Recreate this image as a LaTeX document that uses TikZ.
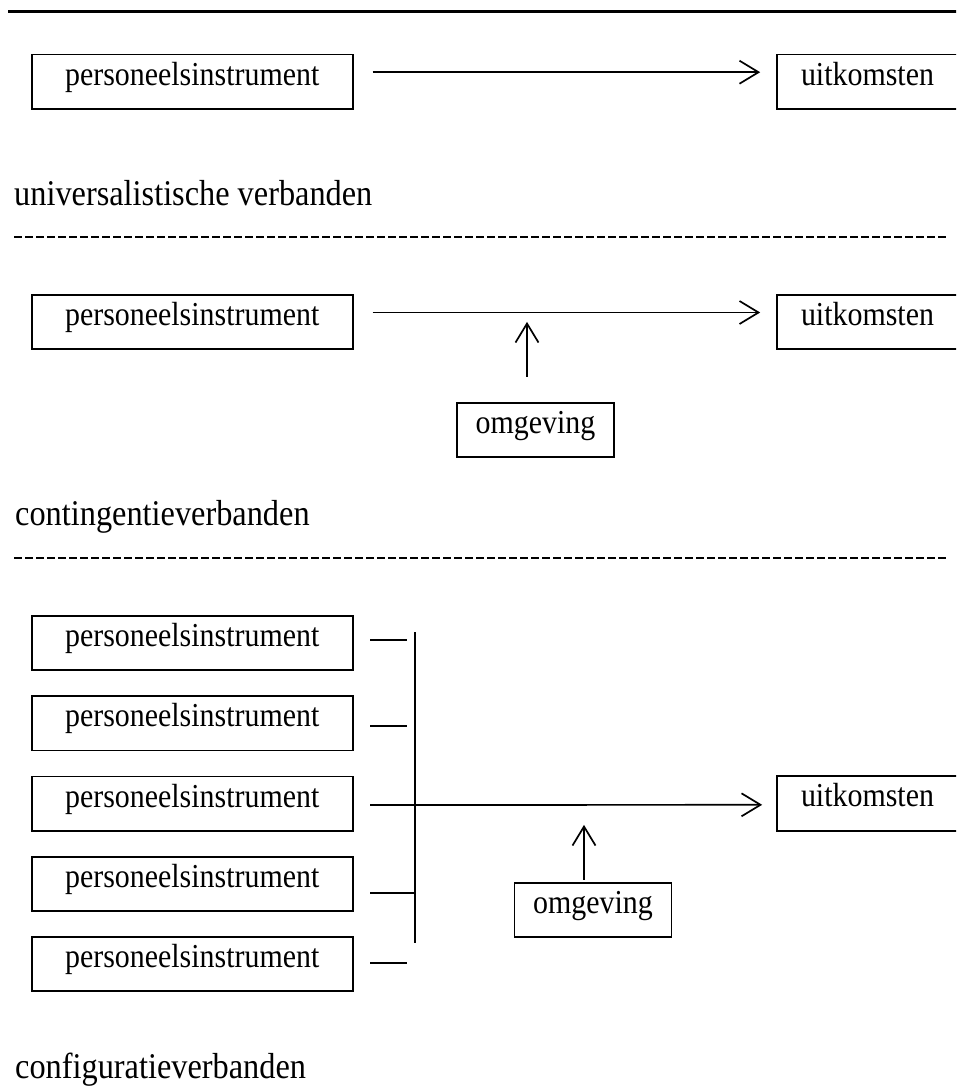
\documentclass[tikz,border=0pt]{standalone}
\usepackage{fontspec}
\setmainfont[FakeStretch=0.893]{Liberation Serif}
\usetikzlibrary{arrows.meta}
\tikzset{
  lbl/.style={draw, line width=1.7pt, inner sep=0pt, text height=22pt, text depth=15.4pt,
    minimum height=54.5pt, font=\fontsize{33.5}{40}\selectfont},
  pbox/.style={lbl, minimum width=321pt},
  ubox/.style={lbl, minimum width=181pt},
  obox/.style={lbl, minimum width=157pt},
  heading/.style={anchor=base west, inner sep=0pt, font=\fontsize{36.2}{43}\selectfont},
  conn/.style={line width=1.7pt},
  arr/.style={line width=1.7pt, -{Straight Barb[length=19pt,width=23pt]}},
  sep/.style={line width=2.2pt, dash pattern=on 7.5pt off 3.5pt},
}
\begin{document}
\begin{tikzpicture}[x=1pt,y=-1pt]
\clip (0,0) rectangle (956,1092);
\useasboundingbox (0,0) rectangle (956,1092);

% top rule
\draw[line width=3pt] (8,11) -- (960,11);

% row 1
\node[pbox] (p1) at (192.2,81.7) {personeelsinstrument};
\node[ubox] (u1) at (867.5,81.7) {uitkomsten};
\draw[arr] ([xshift=19pt,yshift=9.5pt]p1.east) -- ([xshift=-16pt,yshift=9.5pt]u1.west);
\node[heading] (h1) at (14,205) {universalistische verbanden};
\draw[sep] (14,237) -- (946,237);

% row 2
\node[pbox] (p2) at (192.2,322) {personeelsinstrument};
\node[ubox] (u2) at (867.5,322) {uitkomsten};
\draw[arr] ([xshift=19pt,yshift=9.5pt]p2.east) -- ([xshift=-16pt,yshift=9.5pt]u2.west);
\node[obox] (o2) at (535.5,430) {omgeving};
\draw[arr] ([xshift=-8.5pt,yshift=25pt]o2.north) -- ++(0,-55);
\node[heading] (h2) at (15,525) {contingentieverbanden};
\draw[sep] (14,558) -- (946,558);

% row 3
\node[pbox] (q1) at (192.2,643) {personeelsinstrument};
\node[pbox] (q2) at (192.2,723.3) {personeelsinstrument};
\node[pbox] (q3) at (192.2,803.7) {personeelsinstrument};
\node[pbox] (q4) at (192.2,884) {personeelsinstrument};
\node[pbox] (q5) at (192.2,964) {personeelsinstrument};
\node[ubox] (u3) at (867.5,803.5) {uitkomsten};
\node[obox] (o3) at (593,910) {omgeving};

\coordinate (vt) at (415,632);
\coordinate (vb) at (415,943);
\coordinate (q4s) at ([xshift=16.5pt,yshift=-9pt]q4.east);
\draw[conn] (vt) -- (vb);
\draw[conn] ([xshift=16.5pt,yshift=3pt]q1.east) -- ++(37,0);
\draw[conn] ([xshift=16.5pt,yshift=-2.7pt]q2.east) -- ++(37,0);
\draw[conn] (q4s) -- (vb |- q4s);
\draw[conn] ([xshift=16.5pt,yshift=1pt]q5.east) -- ++(37,0);
\draw[arr] ([xshift=16.5pt,yshift=-1.3pt]q3.east) -- ([xshift=-14pt,yshift=-1.3pt]u3.west);
\draw[arr] ([xshift=-9pt,yshift=2pt]o3.north) -- ++(0,-55);

\node[heading] (h3) at (15,1078) {configuratieverbanden};
\end{tikzpicture}
\end{document}
